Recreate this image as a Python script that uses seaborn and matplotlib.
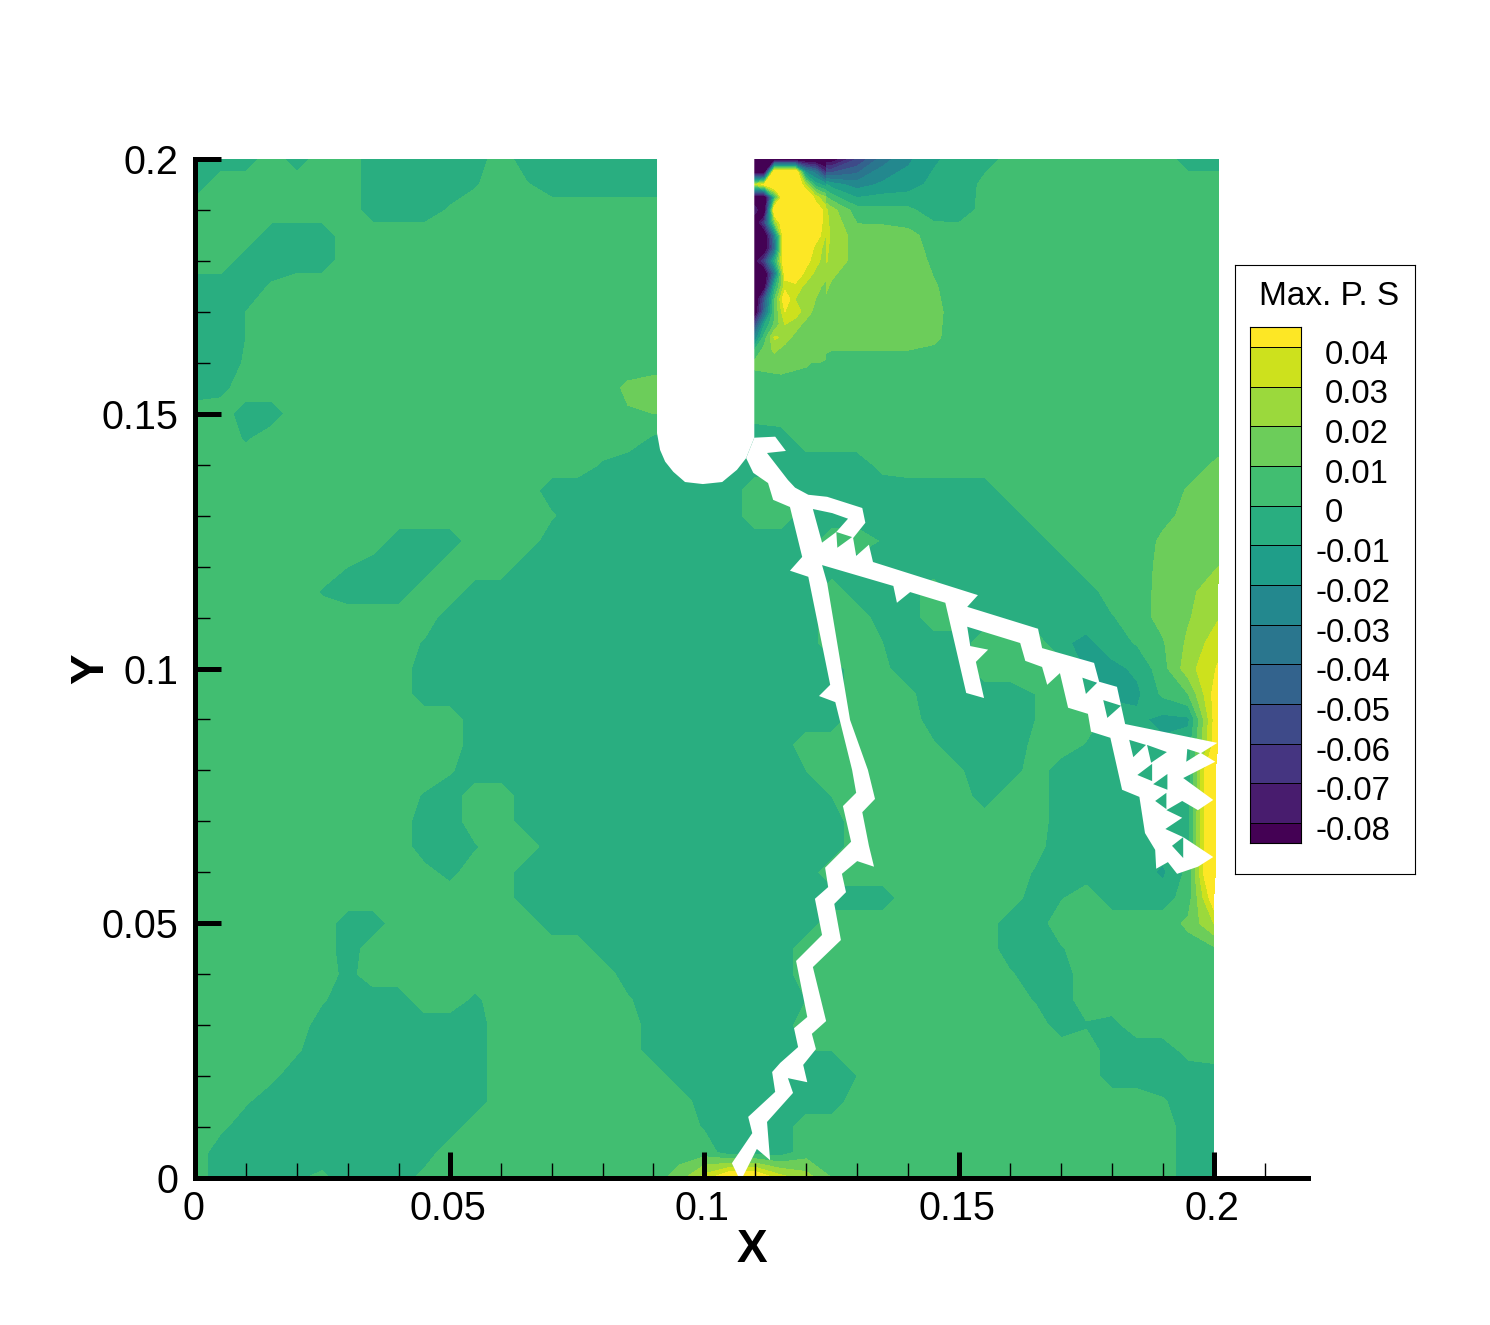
import numpy as np
import matplotlib
matplotlib.use("Agg")
import matplotlib.pyplot as plt
from matplotlib.path import Path
from matplotlib.patches import PathPatch
from matplotlib.transforms import ScaledTranslation
import seaborn as sb

# contour bands, lowest first
band_hex = ["#440154", "#481c6e", "#453581", "#3e4a89", "#33638d", "#2a768e", "#23888e",
            "#1f9e89", "#29ae80", "#41be71", "#6ccd5a", "#9bd93c", "#cde11d", "#fde725"]
legend_labels = ["-0.08", "-0.07", "-0.06", "-0.05", "-0.04", "-0.03", "-0.02", "-0.01",
                 "0", "0.01", "0.02", "0.03", "0.04"]
legend_values = [-0.08, -0.07, -0.06, -0.05, -0.04, -0.03, -0.02, -0.01, 0, 0.01, 0.02, 0.03, 0.04]
legend_edges = [-0.085, -0.08, -0.07, -0.06, -0.05, -0.04, -0.03, -0.02, -0.01, 0, 0.01, 0.02, 0.03, 0.04, 0.045]

tick_values = [0, 0.05, 0.1, 0.15, 0.2]
tick_labels = ["0", "0.05", "0.1", "0.15", "0.2"]

# field in 1e-3 units, rows from y=0.2 down to y=0, columns x=0..0.2 every 0.005
z_rows = [
    [-5,-5,-5,5,-5,5,5,-5,-5,-5,-5,-5,5,-5,-5,-5,-5,-5,-5,-5,-5,-5,-100,-100,-100,-90,-60,-35,-22,-12,-5,-3,2,5,5,5,5,5,5,-5,-5],
    [-5,5,5,5,5,5,5,-5,-5,-5,-5,-1,5,1,-5,-5,-5,-5,-5,-5,-5,-5,-100,300,12,-15,-25,-18,-15,-7,-5,2,5,5,5,5,5,5,5,5,5],
    [5,5,5,5,5,5,5,-5,-5,-5,1,5,5,5,5,5,5,5,5,5,5,5,-300,150,60,24,4,3,2,-5,-5,3,5,5,5,5,5,5,5,5,5],
    [5,5,5,-5,-5,-5,5,5,5,5,5,5,5,5,5,5,5,5,5,5,5,5,-300,80,55,28,15,15,13,6,5,5,5,5,5,5,5,5,5,5,5],
    [5,5,-5,-5,-5,-5,5,5,5,5,5,5,5,5,5,5,5,5,5,5,5,5,-200,60,48,26,16,16,16,8,5,5,5,5,5,5,5,5,5,5,5],
    [-5,-5,-5,1,5,5,5,5,5,5,5,5,5,5,5,5,5,5,5,5,5,5,-300,35,35,18,15,15,15,11,5,5,5,5,5,5,5,5,5,5,5],
    [-5,-5,0,5,5,5,5,5,5,5,5,5,5,5,5,5,5,5,5,5,5,5,-100,48,25,15,15,15,15,13,5,5,5,5,5,5,5,5,5,5,5],
    [-5,-5,0,5,5,5,5,5,5,5,5,5,5,5,5,5,5,5,5,5,5,5,-30,24,15,15,15,15,15,12,5,5,5,5,5,5,5,5,5,5,5],
    [-5,-5,1,5,5,5,5,5,5,5,5,5,5,5,5,5,5,5,5,5,5,5,12,14,11,5,5,5,5,5,5,5,5,5,5,5,5,5,5,5,5],
    [-5,-3,5,5,5,5,5,5,5,5,5,5,5,5,5,5,5,12,15,15,5,5,5,5,5,5,5,5,5,5,5,5,5,5,5,5,5,5,5,5,5],
    [5,5,-5,-5,5,5,5,5,5,5,5,5,5,5,5,5,5,9,10,10,5,5,5,5,5,5,5,5,5,5,5,5,5,5,5,5,5,5,5,5,5],
    [5,5,-1,5,5,5,5,5,5,5,5,5,5,5,5,5,5,5,-2,-5,-5,-5,-8,-5,5,5,5,5,5,5,5,5,5,5,5,5,5,5,5,5,5],
    [5,5,5,5,5,5,5,5,5,5,5,5,5,5,5,5,-1,-5,-5,-5,-5,-5,-5,-5,-5,-5,-5,3,5,5,5,5,5,5,5,5,5,5,5,5,12],
    [5,5,5,5,5,5,5,5,5,5,5,5,5,5,-5,-5,-5,-5,-5,-5,-5,-5,5,5,-5,-5,-5,-5,-5,-5,-5,-5,5,5,5,5,5,5,4,11,15],
    [5,5,5,5,5,5,5,5,5,5,5,5,5,5,1,-5,-5,-5,-5,-5,-5,-5,5,5,-5,-5,-5,-5,-5,-5,-5,-5,-5,5,5,5,5,5,7,13,17],
    [5,5,5,5,5,5,5,5,-5,-5,-5,5,5,5,-5,-5,-5,-5,-5,-5,-5,-5,-5,-5,-5,5,5,-1,-5,-5,-5,-5,-5,-5,5,5,5,4,12,15,18],
    [5,5,5,5,5,5,0,-5,-5,-5,5,5,5,-5,-5,-5,-5,-5,-5,-5,-5,-5,-5,-5,-5,-5,-5,-5,-5,-5,-5,-5,-5,-5,-5,5,5,5,13,16,20],
    [5,5,5,5,5,-1,-5,-5,-5,5,5,-5,-5,-5,-5,-5,-5,-5,-5,-5,-5,-5,-5,-5,-5,5,-5,-5,-5,5,-5,-5,-5,-5,-5,-5,5,6,13,18,25],
    [5,5,5,5,5,5,5,5,5,5,-5,-5,-5,-5,-5,-5,-5,-5,-5,-5,-5,-5,-5,-5,-5,5,5,-5,-5,5,5,-5,-5,-5,-5,-5,-1,6,13,19,29],
    [5,5,5,5,5,5,5,5,5,-1,-5,-5,-5,-5,-5,-5,-5,-5,-5,-5,-5,-5,-5,-5,-5,5,5,0,-5,-5,-5,5,5,5,-8,-13,-5,1,9,22,36],
    [5,5,5,5,5,5,5,5,5,-5,-5,-5,-5,-5,-5,-5,-5,-5,-5,-5,-5,-5,-5,-5,-5,-5,5,2,-5,-5,-5,5,5,5,5,-12,-13,-8,6,26,41],
    [5,5,5,5,5,5,5,5,5,-5,-5,-5,-5,-5,-5,-5,-5,-5,-5,-5,-5,-5,-5,-5,-5,-5,5,5,2,-5,-5,-5,-5,0,5,-5,-12,-12,2,10,48],
    [5,5,5,5,5,5,5,5,5,5,5,-5,-5,-5,-5,-5,-5,-5,-5,-5,-5,-5,-5,-5,-5,-5,5,5,5,-5,-5,-5,-5,0,5,5,-5,-8,-13,-12,50],
    [5,5,5,5,5,5,5,5,5,5,5,-5,-5,-5,-5,-5,-5,-5,-5,-5,-5,-5,-5,-5,5,5,5,5,5,1,-5,-5,-5,2,5,-1,-5,-5,-8,-5,50],
    [5,5,5,5,5,5,5,5,5,5,1,-5,-5,-5,-5,-5,-5,-5,-5,-5,-5,-5,-5,-5,0,5,5,5,5,5,1,-5,-5,5,-5,-5,-5,-5,-5,-5,70],
    [5,5,5,5,5,5,5,5,5,-1,-5,5,5,-5,-5,-5,-5,-5,-5,-5,-5,-5,-5,-5,-5,0,5,5,5,5,5,-5,5,5,-5,-5,-5,-5,-5,-5,70],
    [5,5,5,5,5,5,5,5,5,-5,-5,5,5,-5,-5,-5,-5,-5,-5,-5,-5,-5,-5,-5,-5,-5,5,5,5,5,5,5,5,5,-5,-5,-5,-5,-5,-3,70],
    [5,5,5,5,5,5,5,5,5,-5,-5,-1,5,5,-5,-5,-5,-5,-5,-5,-5,-5,-5,-5,-5,-5,5,5,5,5,5,5,5,3,-5,-5,-5,-5,-5,-3,70],
    [5,5,5,5,5,5,5,5,5,3,-3,5,5,-5,-5,-5,-5,-5,-5,-5,-5,-5,-5,-5,-5,5,5,5,5,5,5,5,5,-1,-5,-5,-5,-5,-12,3,70],
    [5,5,5,5,5,5,5,5,5,5,5,5,5,-5,-5,-5,-5,-5,-5,-5,-5,-5,-5,-5,-5,-5,-5,-5,5,5,5,5,5,-5,-1,5,-5,-5,-5,5,48],
    [5,5,5,5,5,5,-5,-5,5,5,5,5,5,5,-5,-5,-5,-5,-5,-5,-5,-5,-5,-5,-5,5,5,5,5,5,5,5,-5,-5,5,5,5,5,5,12,30],
    [5,5,5,5,5,5,-5,5,5,5,5,5,5,5,5,5,-5,-5,-5,-5,-5,-5,-5,-5,5,5,5,5,5,5,5,5,-5,-5,-1,5,5,5,5,6,8],
    [5,5,5,5,5,5,-3,5,5,5,5,5,5,5,5,5,5,-5,-5,-5,-5,-5,-5,-5,5,5,5,5,5,5,5,5,1,-5,-5,5,5,5,5,5,5],
    [5,5,5,5,5,1,-5,-5,-5,5,5,-2,5,5,5,5,5,1,-5,-5,-5,-5,-5,-5,0,5,5,5,5,5,5,5,5,-1,-5,5,5,5,5,5,5],
    [5,5,5,5,5,-5,-5,-5,-5,-5,-5,-5,5,5,5,5,5,5,-5,-5,-5,-5,-5,-5,5,5,5,5,5,5,5,5,5,5,-5,-1,-3,5,5,5,5],
    [5,5,5,5,1,-5,-5,-5,-5,-5,-5,-5,5,5,5,5,5,5,-5,-5,-5,-5,-5,-5,0,0,5,5,5,5,5,5,5,5,5,5,-5,-5,-5,3,5],
    [5,5,5,2,-5,-5,-5,-5,-5,-5,-5,-5,5,5,5,5,5,5,5,-5,-5,-5,-5,-5,-5,-5,0,5,5,5,5,5,5,5,5,5,-5,-5,-5,-5,-5],
    [5,5,1,-5,-5,-5,-5,-5,-5,-5,-5,-5,5,5,5,5,5,5,5,5,-5,-5,-5,-5,-5,-5,5,5,5,5,5,5,5,5,5,5,5,5,1,-5,-5],
    [5,2,-5,-5,-5,-5,-5,-5,-5,-5,-5,5,5,5,5,5,5,5,5,5,-1,-5,-5,-5,5,5,5,5,5,5,5,5,5,5,5,5,5,5,5,-5,-5],
    [5,-5,-5,-5,-5,-5,-5,-5,-5,-5,5,5,5,5,5,5,5,5,5,5,5,-5,-5,-5,5,5,5,5,5,5,5,5,5,5,5,5,5,5,5,-5,-5],
    [5,-5,-5,-5,-1,2,-5,-5,-5,3,5,5,5,5,5,5,5,5,5,15,35,55,55,35,25,10,5,5,5,5,5,5,5,5,5,5,5,5,5,-5,-5],
]
# the right edge of the mesh moves out a little above the crack (1e-3 units), same row order
edge_shift = [0.9] * 17 + [0.8] * 7 + [0.3] * 5 + [0.0] * 12

# finer readings beside the slot, where the field changes fastest (1e-3 units)
patch_x = [109.8, 111.8, 113.8, 115.8, 117.8, 119.8, 121.8, 123.8]
patch_y = [200, 197.5, 195, 192.5, 190, 187.5, 185, 182.5, 180, 177.5, 175, 172.5, 170, 167.5, 165, 162.5, 160]
patch_rows = [
    [-100, -100, -100, -100, -100, -100, -100, -100],
    [-100, -100, 60, 60, 60, -20, -35, -70],
    [30, 45, 60, 60, 60, 30, -5, -15],
    [-100, -100, 0, 60, 60, 60, 35, 20],
    [-70, -100, 60, 60, 60, 60, 50, 35],
    [-100, -60, 20, 60, 60, 60, 55, 32],
    [-100, -100, -30, 60, 60, 60, 50, 30],
    [-100, -100, -40, 60, 60, 60, 35, 27],
    [-90, -60, -5, 55, 55, 46, 33, 26],
    [-100, -100, -35, 45, 55, 36, 28, 24],
    [-80, -90, -5, 35, 35, 28, 24, 17],
    [-100, -50, 10, 50, 30, 26, 20, 15],
    [-100, -40, 10, 40, 34, 27, 16, 15],
    [-60, -10, 12, 30, 26, 16, 15, 15],
    [-30, 5, 32, 26, 16, 15, 15, 15],
    [0, 14, 22, 15, 15, 15, 15, 15],
    [12, 13, 14, 14, 13, 12, 11, 8],
]

# slot at the top, 1e-3 units
notch_x = [90.7, 90.7, 91.3, 92.3, 93.9, 96.2, 99.7, 103.5, 106.4, 108.2, 109.8, 109.8]
notch_y = [200, 146.2, 142.9, 140.6, 138.6, 136.6, 136.2, 136.6, 139.0, 141.3, 145.3, 200]

# crack outline, 1e-3 units
crack_x = [109.8, 113.9, 116.0, 112.3, 116.4, 117.8, 120.4, 124.1, 131.0, 131.6, 129.2, 129.8, 132.3, 133.1,
           153.7, 151.6, 165.5, 166.3, 176.5, 177.5, 181.0, 182.6, 200.7, 197.5, 200.3, 194.0, 199.9, 196.9,
           193.8, 190.7, 193.8, 190.5, 194.0, 199.9, 196.9, 192.8, 191.0, 188.7, 188.5, 186.5, 185.4, 182.0,
           179.7, 175.9, 175.3, 171.4, 169.8, 167.3, 166.3, 163.0, 162.0, 151.6, 152.2, 155.7, 153.3, 154.9,
           151.4, 147.3, 140.4, 137.8, 137.1, 123.1, 124.1, 128.6, 132.1, 133.5, 131.0, 132.3, 133.3, 130.0,
           127.0, 127.8, 125.5, 126.8, 121.3, 123.9, 121.1, 121.9, 119.4, 120.2, 116.4, 117.4, 112.3, 112.9,
           110.3, 107.6, 106.6, 105.4, 109.4, 108.6, 113.9, 113.3, 114.9, 118.4, 117.6, 120.2, 118.0, 123.1,
           121.7, 124.3, 123.7, 128.8, 127.2, 129.8, 129.0, 125.7, 122.5, 124.7, 120.4, 116.8, 119.2, 116.8,
           113.5, 112.5, 109.6, 108.2]
crack_y = [145.3, 145.5, 142.7, 142.3, 137.0, 135.5, 134.1, 133.7, 131.5, 128.6, 125.6, 122.1, 124.3, 120.9,
           114.4, 112.1, 107.8, 104.0, 101.1, 97.4, 96.4, 89.1, 85.4, 83.4, 81.7, 78.5, 74.2, 72.2,
           74.0, 72.2, 70.7, 68.5, 66.9, 63.0, 61.1, 59.7, 62.0, 60.7, 64.4, 67.7, 74.8, 76.2,
           86.4, 87.6, 91.1, 92.3, 99.1, 96.8, 100.3, 101.5, 105.0, 108.2, 104.4, 103.7, 101.3, 94.2,
           95.2, 112.9, 115.0, 112.9, 116.2, 120.3, 116.8, 89.9, 80.1, 74.4, 71.8, 65.2, 61.1, 62.2,
           59.7, 56.1, 53.8, 46.7, 41.4, 30.8, 28.3, 25.3, 22.2, 18.8, 19.6, 16.7, 11.0, 3.5,
           5.7, 0.4, 0.4, 2.9, 8.8, 12.0, 16.9, 20.8, 22.6, 25.7, 29.4, 31.6, 42.6, 47.7,
           54.8, 57.1, 60.9, 66.0, 73.0, 75.6, 80.1, 93.4, 94.6, 96.8, 118.0, 119.2, 121.9, 131.7,
           133.1, 136.4, 138.4, 141.3]

# pockets of mesh left standing inside the crack, 1e-3 units
pocket_x = [[121.3, 125.1, 128.2, 125.9, 123.1], [125.9, 129.0, 126.1], [183.4, 186.7, 184.2],
            [186.9, 190.8, 187.7], [194.8, 197.3, 194.6], [185.0, 187.9, 187.9],
            [188.1, 190.9, 190.9], [188.5, 190.7, 190.7], [191.8, 194.0, 194.0],
            [174.2, 177.1, 174.9], [178.3, 181.8, 179.1]]
pocket_y = [[131.3, 130.5, 129.4, 126.8, 124.7], [126.8, 125.8, 123.7], [86.0, 85.0, 82.6],
            [85.0, 83.6, 81.5], [84.2, 83.4, 81.7], [79.1, 81.3, 77.9],
            [77.3, 79.3, 76.2], [74.0, 75.6, 72.4], [65.2, 66.9, 62.8],
            [98.2, 97.2, 95.0], [93.8, 92.7, 90.3]]

W, H = 1490, 1325

sb.set_theme(style="ticks")
plt.rcParams["font.family"] = ["Liberation Sans", "DejaVu Sans"]
colors = sb.color_palette(band_hex)

fig = plt.figure(figsize=(W / 100, H / 100), dpi=100)
ax = fig.add_axes([195 / W, (H - 1178) / H, (1308 - 195) / W, (1178 - 159) / H])

# contour field
x = np.arange(41) * 0.005
y = np.arange(41)[::-1] * 0.005
X, Y = np.meshgrid(x, y)
X[:, 40] += np.array(edge_shift) / 1000
Z = np.array(z_rows, dtype=float) / 1000
levels = [-9] + legend_values + [9]
ax.contourf(X, Y, Z, levels=levels, colors=colors, antialiased=False)
ax.contourf(np.array(patch_x) / 1000, np.array(patch_y) / 1000, np.array(patch_rows, dtype=float) / 1000,
            levels=levels, colors=colors, antialiased=False)

# slot
ax.fill(np.array(notch_x) / 1000, np.array(notch_y) / 1000, color="white", lw=0, zorder=3)


def ring(xs, ys, clockwise):
    pts = np.column_stack([xs, ys]) / 1000
    area = np.sum(pts[:, 0] * np.roll(pts[:, 1], -1) - np.roll(pts[:, 0], -1) * pts[:, 1])
    if (area < 0) != clockwise:
        pts = pts[::-1]
    return Path(np.vstack([pts, pts[:1]]), closed=True)


# crack with the pockets as holes
rings = [ring(crack_x, crack_y, True)]
for px, py in zip(pocket_x, pocket_y):
    rings.append(ring(px, py, False))
ax.add_patch(PathPatch(Path.make_compound_path(*rings), facecolor="white", edgecolor="none", zorder=3))

ax.set_xlim(0, 0.2185)
ax.set_ylim(0, 0.2)
ax.set_axisbelow(False)
sb.despine(ax=ax)
for side in ["left", "bottom"]:
    ax.spines[side].set_linewidth(3.6)
    ax.spines[side].set_color("black")
    ax.spines[side].set_zorder(5)
ax.set_xticks(tick_values)
ax.set_xticklabels(tick_labels)
ax.set_yticks(tick_values)
ax.set_yticklabels(tick_labels)
ax.set_xticks(np.arange(0.01, 0.215, 0.01), minor=True)
ax.set_yticks(np.arange(0.01, 0.2, 0.01), minor=True)
ax.tick_params(which="major", direction="in", length=18.5, width=3.6, labelsize=28.5, color="black", labelcolor="black")
ax.tick_params(which="minor", direction="in", length=11, width=1, color="black")
ax.tick_params(axis="x", which="major", pad=9)
ax.tick_params(axis="y", which="major", pad=12)
shift_left = ScaledTranslation(-2 / 100, 0, fig.dpi_scale_trans)
for lab in ax.get_xticklabels():
    lab.set_transform(lab.get_transform() + shift_left)
ax.set_xlabel("X", fontsize=33, fontweight="bold", color="black", labelpad=0)
ax.set_ylabel("Y", fontsize=33, fontweight="bold", color="black", labelpad=-8.5)

# legend box
box = fig.add_axes([1235 / W, (H - 874) / H, 180 / W, 609 / H])
box.set_xticks([])
box.set_yticks([])
for s in box.spines.values():
    s.set_visible(True)
    s.set_linewidth(0.8)
    s.set_color("black")
box.text(0.525, 0.948, "Max. P. S", fontsize=24, ha="center", va="center", transform=box.transAxes, color="black")

cax = fig.add_axes([1250 / W, (H - 843) / H, 51 / W, 516 / H])
for i in range(len(band_hex)):
    cax.barh(legend_edges[i], 1, height=legend_edges[i + 1] - legend_edges[i], align="edge",
             color=colors[i], edgecolor="black", linewidth=0.7)
cax.set_xlim(0, 1)
cax.set_ylim(legend_edges[0], legend_edges[-1])
cax.set_xticks([])
cax.set_yticks([])
for s in cax.spines.values():
    s.set_linewidth(0.8)
    s.set_color("black")
for v, lab in zip(legend_values, legend_labels):
    lx = 1.275 if lab.startswith("-") else 1.47
    cax.text(lx, v - 0.0021, lab, fontsize=23.7, ha="left", va="center", color="black",
             transform=cax.get_yaxis_transform())

fig.savefig("out.png", dpi=100)
